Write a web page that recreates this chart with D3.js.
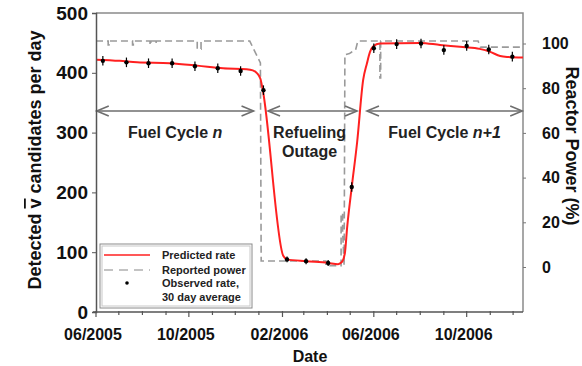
<!DOCTYPE html>
<html>
<head>
<meta charset="utf-8">
<script src="https://cdn.jsdelivr.net/npm/d3@7"></script>
<style>
  html, body { margin: 0; padding: 0; background: #fff; }
  svg { display: block; font-family: "Liberation Sans", Arial, sans-serif; font-weight: bold; }
</style>
</head>
<body>
<svg id="chart" width="582" height="366"></svg>
<script>
// Predicted antineutrino candidate rate (per day)
const predDates = ["2005-06-01","2005-07-02","2005-07-25","2005-09-06","2005-10-12","2005-11-15","2005-12-16","2005-12-24","2005-12-29","2006-01-03","2006-01-06","2006-02-02","2006-02-07","2006-03-04","2006-04-02","2006-04-15","2006-04-20","2006-04-24","2006-04-27","2006-05-03","2006-05-10","2006-05-18","2006-05-23","2006-05-27","2006-05-31","2006-06-09","2006-08-01","2006-08-27","2006-09-26","2006-10-18","2006-11-01","2006-11-14","2006-11-23","2006-12-14"];
const predRate = [422,420,417.5,416,412,407.5,406,404,400,390,372,94,88,85,82,80,83.6,98.7,142,209,283,388,416,435,444,449,450,446.5,443,440,435,428,426.5,425.6];

// Observed rate, 30 day average, with error
const obsDates = ["2005-06-10","2005-07-11","2005-08-09","2005-09-09","2005-10-09","2005-11-08","2005-12-08","2006-01-07","2006-02-07","2006-03-04","2006-04-02","2006-05-03","2006-06-01","2006-07-01","2006-08-02","2006-09-01","2006-10-01","2006-10-30","2006-11-30"];
const obsRate = [420,417.5,416,416,411,407.5,403,371,88,85,82,209,441,448,449,438,445,439,427];
const obsErr = [8,8,8,8,8,8,8,8,5,5,5,8,8,8,8,8,8,8,8];

// Reported reactor power (%)
const powerDates = ["2005-06-01","2005-06-17","2005-06-17","2005-06-18","2005-06-18","2005-07-19","2005-07-19","2005-07-20","2005-07-20","2005-08-11","2005-08-11","2005-08-12","2005-08-12","2005-08-18","2005-08-18","2005-08-19","2005-08-19","2005-10-12","2005-10-12","2005-10-17","2005-10-17","2005-12-20","2006-01-03","2006-01-04","2006-03-30","2006-03-30","2006-04-19","2006-04-19","2006-04-21","2006-04-21","2006-04-23","2006-04-24","2006-04-30","2006-05-03","2006-05-08","2006-05-11","2006-06-09","2006-06-09","2006-06-10","2006-06-10","2006-10-16","2006-10-19","2006-12-14"];
const powerPct = [101.1,101.1,99.3,99.3,101.1,101.1,99.3,99.3,101.1,101.1,99.3,99.3,101.1,101.1,99.8,99.8,101.1,101.1,97.5,97.5,101.1,101.1,91.3,2.7,2.7,0.6,0.6,24,24,16,0.6,95,95.5,96.2,97,101.1,101.1,84.6,84.6,101.1,101.1,98.4,98.4];

// Operating phases
const phaseLabels = [["Fuel Cycle ", "n"], ["Refueling", "Outage"], ["Fuel Cycle ", "n+1"]];
const phaseStart = ["2005-06-02","2006-01-13","2006-05-23"];
const phaseEnd = ["2005-12-25","2006-05-10","2006-12-13"];

const leftTicks = [0,100,200,300,400,500];
const rightTicks = [0,20,40,60,80,100];
const legendLabels = ["Predicted rate","Reported power","Observed rate,","30 day average"];

const parse = d3.timeParse("%Y-%m-%d");
const svg = d3.select("#chart");
const L = 96, R = 523, T = 13, B = 312;

const x = d3.scaleTime().domain([parse("2005-06-01"), parse("2006-12-14")]).range([L, R]);
const y = d3.scaleLinear().domain([0, 500]).range([B, T]);
const y2 = d3.scaleLinear().domain([0, 100]).range([267, 43.5]);

const frameColor = "#8a8a8a";

// Plot frame (top and right edges)
svg.append("path")
  .attr("d", `M${L},${T}H${R}V${B}`)
  .attr("fill", "none").attr("stroke", frameColor).attr("stroke-width", 1.5);

// Reported power (dashed)
const power = powerDates.map((d, i) => ({ d: parse(d), v: powerPct[i] }));
svg.append("path")
  .datum(power)
  .attr("fill", "none")
  .attr("stroke", "#9a9a9a")
  .attr("stroke-width", 1.6)
  .attr("stroke-dasharray", "7,4")
  .attr("d", d3.line().x(p => x(p.d)).y(p => y2(p.v)));

// Predicted rate
const pred = predDates.map((d, i) => ({ d: parse(d), v: predRate[i] }));
svg.append("path")
  .datum(pred)
  .attr("fill", "none")
  .attr("stroke", "#ff2020")
  .attr("stroke-width", 2)
  .attr("stroke-linejoin", "round")
  .attr("d", d3.line().curve(d3.curveMonotoneX).x(p => x(p.d)).y(p => y(p.v)));

// Observed points with error bars
const obs = obsDates.map((d, i) => ({ d: parse(d), v: obsRate[i], e: obsErr[i] }));
const og = svg.append("g");
og.selectAll("line").data(obs).join("line")
  .attr("x1", p => x(p.d)).attr("x2", p => x(p.d))
  .attr("y1", p => y(p.v - p.e)).attr("y2", p => y(p.v + p.e))
  .attr("stroke", "#000").attr("stroke-width", 1.2);
og.selectAll("circle").data(obs).join("circle")
  .attr("cx", p => x(p.d)).attr("cy", p => y(p.v)).attr("r", 2.2)
  .attr("fill", "#000");

// Phase arrows and labels
const arrowY = 111;
const ag = svg.append("g");
phaseLabels.forEach((lab, i) => {
  const x0 = x(parse(phaseStart[i])), x1 = x(parse(phaseEnd[i]));
  ag.append("line").attr("x1", x0).attr("x2", x1).attr("y1", arrowY).attr("y2", arrowY)
    .attr("stroke", "#6e6e6e").attr("stroke-width", 1.6);
  ag.append("path")
    .attr("d", `M${x0 + 12},${arrowY - 5}L${x0},${arrowY}L${x0 + 12},${arrowY + 5}M${x1 - 12},${arrowY - 5}L${x1},${arrowY}L${x1 - 12},${arrowY + 5}`)
    .attr("fill", "none").attr("stroke", "#6e6e6e").attr("stroke-width", 1.6);
  const cx = (x0 + x1) / 2;
  if (i === 1) {
    ag.append("text").attr("x", cx - 3).attr("y", 137.5).attr("text-anchor", "middle")
      .attr("font-size", 16).attr("fill", "#222").text(lab[0]);
    ag.append("text").attr("x", cx - 3).attr("y", 156.5).attr("text-anchor", "middle")
      .attr("font-size", 16).attr("fill", "#222").text(lab[1]);
  } else {
    const t = ag.append("text").attr("x", cx).attr("y", 137.5).attr("text-anchor", "middle")
      .attr("font-size", 16).attr("fill", "#222");
    t.append("tspan").text(lab[0]);
    t.append("tspan").attr("font-style", "italic").text(lab[1]);
  }
});

// Left axis
const ly = svg.append("g").attr("transform", `translate(${L},0)`)
  .call(d3.axisLeft(y).tickValues(leftTicks).tickSize(4).tickPadding(4));
ly.select(".domain").attr("stroke", "#555").attr("stroke-width", 1.5);
ly.selectAll(".tick line").attr("stroke", "#555");
ly.selectAll(".tick text").attr("font-size", 19).attr("font-family", null).attr("fill", "#111");

// Right axis
const ry = svg.append("g").attr("transform", `translate(${R},0)`)
  .call(d3.axisRight(y2).tickValues(rightTicks).tickSize(3).tickPadding(16));
ry.select(".domain").remove();
ry.selectAll(".tick line").attr("stroke", "#777");
ry.selectAll(".tick text").attr("font-size", 16).attr("font-family", null).attr("fill", "#111");

// Bottom axis: monthly ticks, labels every four months
const months = d3.timeMonth.range(parse("2005-06-01"), parse("2006-12-14"));
const isMajor = d => (d.getMonth() - 5 + 12) % 4 === 0;
const bx = svg.append("g").attr("transform", `translate(0,${B})`);
bx.append("line").attr("x1", L - 3).attr("x2", R).attr("stroke", "#555").attr("stroke-width", 1.5);
bx.selectAll("line.tk").data(months).join("line").attr("class", "tk")
  .attr("x1", d => x(d)).attr("x2", d => x(d))
  .attr("y1", -1).attr("y2", d => isMajor(d) ? 5 : 3)
  .attr("stroke", "#555").attr("stroke-width", 1.2);
bx.selectAll("text").data(months.filter(isMajor)).join("text")
  .attr("x", d => x(d) - 3).attr("y", 28).attr("text-anchor", "middle")
  .attr("font-size", 16).attr("fill", "#111")
  .text(d3.timeFormat("%m/%Y"));

// Axis titles
const yt = svg.append("text").attr("transform", "translate(41,160) rotate(-90)")
  .attr("text-anchor", "middle").attr("font-size", 18).attr("fill", "#111");
yt.append("tspan").text("Detected ");
yt.append("tspan").style("text-decoration", "overline").text("v");
yt.append("tspan").text(" candidates per day");

svg.append("text").attr("transform", "translate(566,146) rotate(90)")
  .attr("text-anchor", "middle").attr("font-size", 18).attr("fill", "#111")
  .text("Reactor Power (%)");

svg.append("text").attr("x", 310).attr("y", 362).attr("text-anchor", "middle")
  .attr("font-size", 16).attr("fill", "#111").text("Date");

// Legend
const lg = svg.append("g");
lg.append("rect").attr("x", 100).attr("y", 244).attr("width", 152).attr("height", 64)
  .attr("fill", "#fff").attr("stroke", "#8a8a8a").attr("stroke-width", 1);
lg.append("rect").attr("x", 102).attr("y", 246).attr("width", 148).attr("height", 60)
  .attr("fill", "none").attr("stroke", "#c8c8c8").attr("stroke-width", 1);
lg.append("line").attr("x1", 104).attr("x2", 150).attr("y1", 255).attr("y2", 255)
  .attr("stroke", "#ff2020").attr("stroke-width", 1.6);
lg.append("line").attr("x1", 104).attr("x2", 150).attr("y1", 270).attr("y2", 270)
  .attr("stroke", "#b0b0b0").attr("stroke-width", 1.6).attr("stroke-dasharray", "9,6");
lg.append("circle").attr("cx", 127).attr("cy", 283).attr("r", 1.8).attr("fill", "#000");
const legY = [255, 270, 283, 297];
legendLabels.forEach((t, i) => {
  lg.append("text").attr("x", 162).attr("y", legY[i]).attr("dy", "0.35em")
    .attr("font-size", 11).attr("fill", "#222").text(t);
});
</script>
</body>
</html>
